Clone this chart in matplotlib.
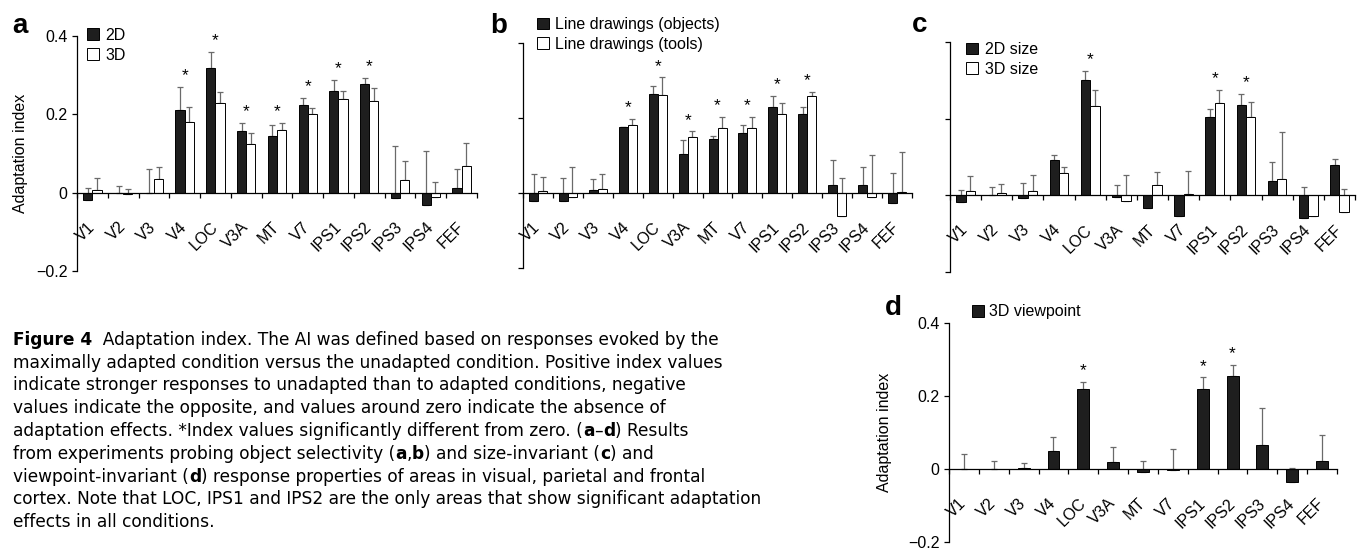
import matplotlib
matplotlib.use("Agg")
import matplotlib.pyplot as plt
import numpy as np
from matplotlib.patches import Patch

plt.rcParams["font.family"] = ["Liberation Sans", "DejaVu Sans"]

areas = ["V1", "V2", "V3", "V4", "LOC", "V3A", "MT", "V7", "IPS1", "IPS2", "IPS3", "IPS4", "FEF"]

# panel a: object selectivity, 2D vs 3D
a_2d = [-0.018, 0.0, 0.0, 0.212, 0.319, 0.157, 0.144, 0.224, 0.259, 0.277, -0.014, -0.032, 0.012]
a_2d_err = [0.030, 0.018, 0.060, 0.058, 0.039, 0.020, 0.030, 0.018, 0.029, 0.016, 0.133, 0.139, 0.049]
a_3d = [0.007, -0.003, 0.035, 0.181, 0.228, 0.125, 0.160, 0.200, 0.240, 0.235, 0.033, -0.012, 0.067]
a_3d_err = [0.031, 0.013, 0.031, 0.038, 0.030, 0.028, 0.017, 0.015, 0.019, 0.031, 0.049, 0.039, 0.059]
a_sig = ["V4", "LOC", "V3A", "MT", "V7", "IPS1", "IPS2"]

# panel b: line drawings
b_obj = [-0.022, -0.022, 0.007, 0.175, 0.265, 0.104, 0.143, 0.160, 0.228, 0.210, 0.020, 0.020, -0.027]
b_obj_err = [0.073, 0.061, 0.030, 0.002, 0.019, 0.038, 0.010, 0.021, 0.031, 0.018, 0.068, 0.050, 0.081]
b_tools = [0.004, -0.011, 0.010, 0.180, 0.260, 0.149, 0.173, 0.173, 0.210, 0.259, -0.062, -0.011, 0.002]
b_tools_err = [0.039, 0.081, 0.041, 0.018, 0.048, 0.015, 0.030, 0.030, 0.030, 0.011, 0.101, 0.111, 0.108]
b_sig = ["V4", "LOC", "V3A", "MT", "V7", "IPS1", "IPS2"]

# panel c: size invariance
c_2d = [-0.017, 0.002, -0.008, 0.092, 0.302, -0.005, -0.034, -0.055, 0.204, 0.235, 0.037, -0.060, 0.078]
c_2d_err = [0.032, 0.019, 0.040, 0.014, 0.021, 0.031, 0.020, 0.020, 0.022, 0.030, 0.050, 0.081, 0.017]
c_3d = [0.010, 0.007, 0.012, 0.058, 0.233, -0.015, 0.026, 0.004, 0.241, 0.204, 0.043, -0.053, -0.043]
c_3d_err = [0.041, 0.022, 0.040, 0.015, 0.041, 0.069, 0.035, 0.060, 0.033, 0.040, 0.121, 0.040, 0.060]
c_sig = ["LOC", "IPS1", "IPS2"]

# panel d: viewpoint invariance
d_vals = [0.0, 0.0, 0.004, 0.048, 0.220, 0.018, -0.007, -0.002, 0.220, 0.254, 0.067, -0.035, 0.021]
d_err = [0.041, 0.021, 0.013, 0.039, 0.019, 0.042, 0.030, 0.058, 0.031, 0.031, 0.101, 0.038, 0.071]
d_sig = ["LOC", "IPS1", "IPS2"]

DARK = "#1e1e1e"
ECOL = "#6a6a6a"
FS = 11.5

caption = [
    [("Figure 4", True), ("  Adaptation index. The AI was defined based on responses evoked by the", False)],
    [("maximally adapted condition versus the unadapted condition. Positive index values", False)],
    [("indicate stronger responses to unadapted than to adapted conditions, negative", False)],
    [("values indicate the opposite, and values around zero indicate the absence of", False)],
    [("adaptation effects. *Index values significantly different from zero. (", False), ("a", True),
     ("\u2013", False), ("d", True), (") Results", False)],
    [("from experiments probing object selectivity (", False), ("a", True), (",", False), ("b", True),
     (") and size-invariant (", False), ("c", True), (") and", False)],
    [("viewpoint-invariant (", False), ("d", True), (") response properties of areas in visual, parietal and frontal", False)],
    [("cortex. Note that LOC, IPS1 and IPS2 are the only areas that show significant adaptation", False)],
    [("effects in all conditions.", False)],
]


def style_axes(ax, show_ylabels):
    x = np.arange(len(areas))
    ax.set_xlim(-0.5, len(areas) - 0.5)
    ax.set_ylim(-0.2, 0.4)
    for s in ["top", "right"]:
        ax.spines[s].set_visible(False)
    ax.spines["bottom"].set_position(("data", 0))
    ax.spines["left"].set_linewidth(0.9)
    ax.spines["bottom"].set_linewidth(0.9)
    ax.set_xticks(x)
    ax.set_xticks(np.arange(len(areas) + 1) - 0.5, minor=True)
    ax.set_xticklabels(areas, fontsize=FS)
    ax.tick_params(axis="x", which="major", length=0, pad=23)
    ax.tick_params(axis="x", which="minor", length=3.5, width=0.9, direction="out")
    plt.setp(ax.get_xticklabels(), rotation=45, ha="right", va="center", rotation_mode="anchor")
    ax.set_yticks([-0.2, 0, 0.2, 0.4])
    ax.tick_params(axis="y", length=3.5, width=0.9, direction="out", labelsize=FS)
    if show_ylabels:
        ax.set_yticklabels(["\u22120.2", "0", "0.2", "0.4"])
    else:
        ax.set_yticklabels([])


def stars(ax, means, errs, sig):
    caps = np.max(np.array(means) + np.array(errs), axis=0)
    for name in sig:
        i = areas.index(name)
        ax.text(i, caps[i] + 0.03, "*", ha="center", va="center", fontsize=12.5)


def paired(ax, v1, e1, v2, e2, labels, sig, bbox):
    x = np.arange(len(areas))
    w = 0.3
    ax.errorbar(x - w / 2, v1, yerr=[np.zeros(len(v1)), e1], fmt="none", ecolor=ECOL,
                elinewidth=0.9, capsize=2.5, capthick=0.9, zorder=1)
    ax.errorbar(x + w / 2, v2, yerr=[np.zeros(len(v2)), e2], fmt="none", ecolor=ECOL,
                elinewidth=0.9, capsize=2.5, capthick=0.9, zorder=1)
    ax.bar(x - w / 2, v1, w, color=DARK, edgecolor="black", linewidth=0.7, zorder=2)
    ax.bar(x + w / 2, v2, w, color="white", edgecolor="black", linewidth=0.7, zorder=2)
    stars(ax, [v1, v2], [e1, e2], sig)
    handles = [Patch(facecolor=DARK, edgecolor="black", linewidth=0.7),
               Patch(facecolor="white", edgecolor="black", linewidth=0.7)]
    ax.legend(handles, labels, loc="upper left", bbox_to_anchor=bbox, frameon=False,
              fontsize=FS, handlelength=0.75, handleheight=0.75, handletextpad=0.4,
              labelspacing=0.3, borderpad=0, borderaxespad=0)


fig = plt.figure(figsize=(13.6, 5.49), dpi=100)

ax_a = fig.add_axes([0.0566, 0.5064, 0.2941, 0.428])
ax_b = fig.add_axes([0.3846, 0.5118, 0.2860, 0.410])
ax_c = fig.add_axes([0.6985, 0.5046, 0.2978, 0.419])
ax_d = fig.add_axes([0.6978, 0.0128, 0.2853, 0.3989])

for ax, show in [(ax_a, True), (ax_b, False), (ax_c, False), (ax_d, True)]:
    style_axes(ax, show)

paired(ax_a, a_2d, a_2d_err, a_3d, a_3d_err, ["2D", "3D"], a_sig, (0.025, 1.035))
paired(ax_b, b_obj, b_obj_err, b_tools, b_tools_err,
       ["Line drawings (objects)", "Line drawings (tools)"], b_sig, (0.036, 1.115))
paired(ax_c, c_2d, c_2d_err, c_3d, c_3d_err, ["2D size", "3D size"], c_sig, (0.04, 1.0))

xd = np.arange(len(areas))
ax_d.errorbar(xd, d_vals, yerr=[np.zeros(len(d_vals)), d_err], fmt="none", ecolor=ECOL,
              elinewidth=0.9, capsize=2.5, capthick=0.9, zorder=1)
ax_d.bar(xd, d_vals, 0.4, color=DARK, edgecolor="black", linewidth=0.7, zorder=2)
stars(ax_d, [d_vals], [d_err], d_sig)
ax_d.legend([Patch(facecolor=DARK, edgecolor="black", linewidth=0.7)], ["3D viewpoint"],
            loc="upper left", bbox_to_anchor=(0.059, 1.085), frameon=False, fontsize=FS,
            handlelength=0.75, handleheight=0.75, handletextpad=0.3, borderpad=0, borderaxespad=0)

ax_a.set_ylabel("Adaptation index", fontsize=FS)
ax_a.yaxis.set_label_coords(-0.1225, 0.5)
ax_d.set_ylabel("Adaptation index", fontsize=FS)
ax_d.yaxis.set_label_coords(-0.147, 0.5)

for lbl, x, y in [("a", 12, 33), ("b", 490, 33), ("c", 912, 32), ("d", 885, 315)]:
    fig.text(x / 1360, 1 - y / 549, lbl, fontsize=20, fontweight="bold", va="baseline")

# caption, run by run so the bold parts sit inside the lines
fig.canvas.draw()
renderer = fig.canvas.get_renderer()
cap_family = ["DejaVu Sans"]

# size the caption so the longest line spans the same width as in the figure
probe = fig.text(0, 0, caption[7][0][0], fontsize=12, family=cap_family)
probe_w = probe.get_window_extent(renderer=renderer).width
probe.remove()
cap_fs = 12 * 747 / probe_w

y0 = 340
for k, line in enumerate(caption):
    xpix = 13
    ypix = y0 + k * 22.75
    for txt, bold in line:
        t = fig.text(xpix / 1360, 1 - ypix / 549, txt, fontsize=cap_fs, family=cap_family,
                     fontweight="bold" if bold else "normal", va="center", ha="left")
        xpix += t.get_window_extent(renderer=renderer).width

fig.savefig("out.png", dpi=100)
